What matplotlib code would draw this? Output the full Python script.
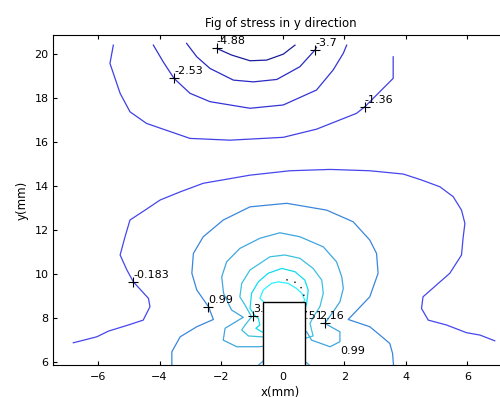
import matplotlib
matplotlib.use("Agg")
import matplotlib.pyplot as plt
from matplotlib.patches import Rectangle

# contour lines (x, y in mm), one list pair per line
m488_x = [-2.14, -1.66, -1.06, -0.52, 0.02, 0.40]
m488_y = [20.27, 19.97, 19.71, 19.74, 20.01, 20.42]

m370_x = [-3.12, -2.79, -2.36, -1.60, -0.95, -0.19, 0.56, 1.05, 1.10]
m370_y = [20.50, 19.89, 19.36, 18.83, 18.75, 18.86, 19.44, 20.20, 20.32]

m253_x = [-4.20, -3.88, -3.53, -3.01, -2.36, -1.06, 0.02, 1.10, 1.64, 1.97, 2.08]
m253_y = [20.42, 19.66, 18.91, 18.23, 17.85, 17.55, 17.70, 18.38, 19.29, 20.05, 20.42]

m136_x = [-5.50, -5.61, -5.28, -4.96, -4.42, -3.01, -1.71, 0.02, 1.10, 2.40, 2.67, 3.59, 3.59]
m136_y = [20.42, 19.59, 18.23, 17.39, 16.86, 16.18, 16.10, 16.23, 16.60, 17.32, 17.62, 18.91, 19.89]

m018_x = [-6.80, -6.04, -5.66, -5.01, -4.53, -4.31, -4.36, -4.85, -5.06, -5.28, -5.12,
          -4.96, -4.47, -3.98, -3.33, -2.58, -1.06, 0.24, 1.54, 2.83, 3.92, 4.51, 5.11,
          5.54, 5.81, 5.92, 5.86, 5.81, 5.43, 4.56, 4.51, 4.73, 5.32, 5.97, 6.41, 6.89]
m018_y = [6.89, 7.16, 7.42, 7.70, 7.92, 8.53, 8.91, 9.66, 10.20, 10.88, 11.71,
          12.47, 12.92, 13.38, 13.75, 14.14, 14.51, 14.71, 14.77, 14.71, 14.56, 14.29, 13.98,
          13.53, 12.92, 12.32, 11.64, 10.88, 10.05, 8.98, 8.45, 7.92, 7.70, 7.35, 7.24, 6.98]

p099_x = [-3.60, -3.60, -3.33, -2.79, -2.25, -2.41, -2.79, -2.95, -2.90, -2.58, -1.93,
          -1.06, 0.13, 1.43, 2.29, 2.83, 3.05, 3.10, 2.83, 2.13, 2.83, 3.16, 3.48, 3.57, 3.60]
p099_y = [5.88, 6.48, 7.16, 7.62, 7.95, 8.53, 9.29, 10.05, 10.95, 11.71, 12.47,
          13.07, 13.23, 12.92, 12.39, 11.56, 10.95, 10.05, 8.98, 7.95, 7.62, 7.24, 6.86, 6.41, 5.88]

p216_x = [-0.40, -0.79, -1.49, -1.93, -1.87, -1.28, -1.66, -1.92, -1.98, -1.82, -1.39,
          -0.74, -0.09, 0.56, 1.32, 1.75, 1.92, 1.97, 1.86, 1.64, 1.37, 1.86, 1.86,
          1.54, 0.94, 0.78, 0.50]
p216_y = [6.75, 6.71, 6.71, 7.01, 7.55, 8.05, 8.38, 9.14, 9.89, 10.57, 11.18,
          11.64, 11.89, 11.71, 11.25, 10.57, 9.89, 9.36, 8.75, 8.30, 7.77, 7.39, 6.94,
          6.71, 7.01, 7.39, 7.50]
p216b_x = [-0.78, -0.62]
p216b_y = [5.88, 6.08]
p216c_x = [0.70, 0.86]
p216c_y = [6.08, 5.88]

p334_x = [-0.40, -0.68, -1.11, -1.33, -1.22, -1.01, -1.22, -1.39, -1.33, -1.06, -0.41,
          0.07, 0.56, 0.99, 1.27, 1.32, 1.21, 0.99, 0.89, 0.94, 0.99, 0.72, 0.50]
p334_y = [7.14, 7.16, 7.20, 7.47, 7.70, 8.07, 8.60, 8.98, 9.59, 10.20, 10.80,
          10.88, 10.73, 10.27, 9.74, 9.14, 8.53, 8.05, 7.77, 7.47, 7.20, 7.09, 7.10]

p451_x = [-0.50, -0.68, -0.87, -0.74, -0.79, -0.92, -1.06, -1.01, -0.79, -0.47, -0.03,
          0.40, 0.72, 0.83, 0.78, 0.72, 0.55]
p451_y = [7.30, 7.39, 7.55, 7.70, 8.00, 8.15, 8.45, 9.14, 9.66, 10.05, 10.27,
          10.12, 9.74, 9.29, 8.68, 8.38, 8.20]

p568_x = [-0.50, -0.74, -0.63, -0.36, -0.14, 0.18, 0.45, 0.62, 0.72, 0.60]
p568_y = [8.60, 8.91, 9.29, 9.59, 9.66, 9.59, 9.36, 9.14, 8.83, 8.60]

top_x = [0.12, 0.45, 0.66, 0.78]
top_y = [9.76, 9.62, 9.30, 8.20]

lines = [
    (m488_x, m488_y, '#1c1c9c'),
    (m370_x, m370_y, '#2a2ac4'),
    (m253_x, m253_y, '#3434d8'),
    (m136_x, m136_y, '#4040e6'),
    (m018_x, m018_y, '#4646ee'),
    (p099_x, p099_y, '#3a86dc'),
    (p216_x, p216_y, '#3ea6de'),
    (p216b_x, p216b_y, '#3ea6de'),
    (p216c_x, p216c_y, '#3ea6de'),
    (p334_x, p334_y, '#3cc0e0'),
    (p451_x, p451_y, '#10dcee'),
    (p568_x, p568_y, '#30f0ff'),
]

# contour labels with their '+' marks
lab_text = ['-4.88', '-3.7', '-2.53', '-1.36', '-0.183', '0.99', '3.34', '4.51', '2.16']
lab_x = [-2.14, 1.05, -3.53, 2.67, -4.85, -2.41, -0.95, 0.52, 1.37]
lab_y = [20.27, 20.20, 18.91, 17.62, 9.66, 8.53, 8.10, 7.80, 7.77]
lab_dx = [0, 0, 0, 0, 0, 0, 0, 0, -4]

# the plain text label near the bottom
extra_text = '0.99'
extra_x, extra_y = 1.86, 6.37

# the block
blk_x0, blk_x1, blk_top = -0.65, 0.72, 8.75

fig = plt.figure(figsize=(5.0, 3.97), dpi=100)
ax = fig.add_axes([0.1054, 0.0806, 0.9106, 0.8312])

for xs, ys, c in lines:
    ax.plot(xs, ys, color=c, lw=0.9, zorder=2)
ax.plot(top_x, top_y, color='black', lw=1.0, linestyle=(0, (1, 5)), zorder=2)

for t, x, y, dx in zip(lab_text, lab_x, lab_y, lab_dx):
    ax.plot(x, y, marker='+', color='black', markersize=7, mew=0.8, zorder=3)
    ax.annotate(t, (x, y), xytext=(dx, 3), textcoords='offset points',
                ha='left', va='baseline', fontsize=8, zorder=3)
ax.text(extra_x, extra_y, extra_text, fontsize=8, ha='left', va='baseline', zorder=3)

ax.add_patch(Rectangle((blk_x0, 5.0), blk_x1 - blk_x0, blk_top - 5.0,
                       facecolor='white', edgecolor='black', lw=1.0, zorder=5))

ax.set_xlim(-7.47, 7.32)
ax.set_ylim(5.88, 20.88)
ax.set_xticks([-6, -4, -2, 0, 2, 4, 6])
ax.set_yticks([6, 8, 10, 12, 14, 16, 18, 20])
ax.tick_params(direction='in', length=3, width=0.8, labelsize=8, top=True, right=True)
ax.tick_params(axis='x', pad=5)
ax.tick_params(axis='y', pad=3)
for s in ax.spines.values():
    s.set_linewidth(0.8)

ax.set_title("Fig of stress in y direction", fontsize=8.5, pad=6)
ax.set_xlabel("x(mm)", fontsize=8.5, labelpad=3)
ax.set_ylabel("y(mm)", fontsize=8.5, labelpad=4)

fig.savefig("out.png", dpi=100)
